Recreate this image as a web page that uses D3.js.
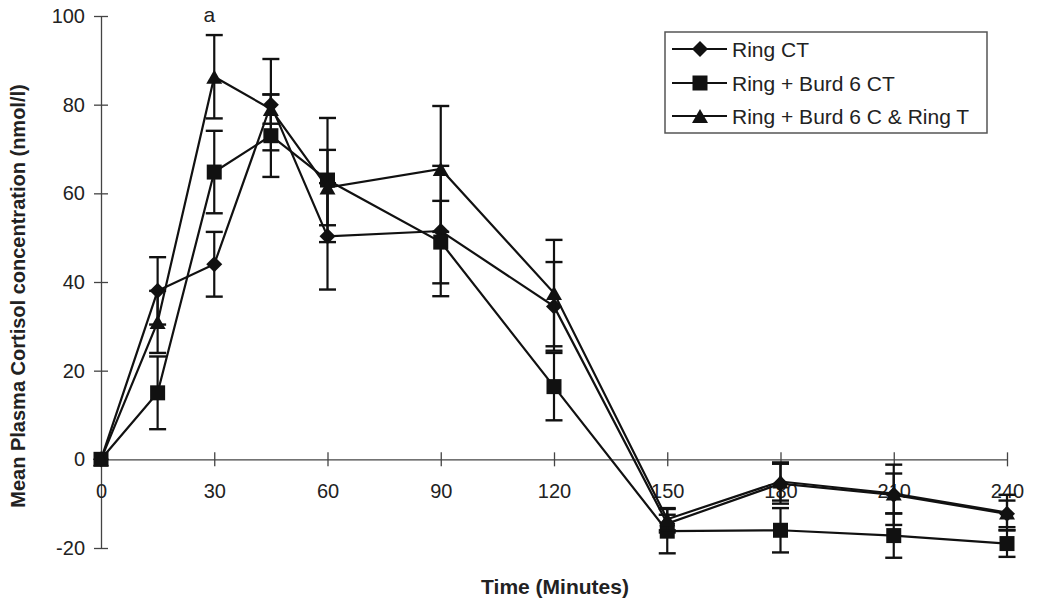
<!DOCTYPE html>
<html>
<head>
<meta charset="utf-8">
<script src="https://cdn.jsdelivr.net/npm/d3@7"></script>
<style>
  html, body { margin: 0; padding: 0; background: #fff; }
  svg { display: block; font-family: "Liberation Sans", Arial, sans-serif; }
</style>
</head>
<body>
<svg id="chart" width="1037" height="601"></svg>
<script>
// ---- data ----
const times = [0, 15, 30, 45, 60, 90, 120, 150, 180, 210, 240];
const seriesNames = ["Ring CT", "Ring + Burd 6 CT", "Ring + Burd 6 C & Ring T"];
const ringCT        = [0, 38, 44, 80, 50.3, 51.5, 34.5, -14.5, -5.5, -8, -12.3];
const ringCTErr     = [0, 7.6, 7.3, 10.3, 12, 14.7, 10, 2, 4.5, 6.8, 3];
const burdCT        = [0, 15, 64.8, 73, 63, 49, 16.4, -16.2, -16, -17.2, -19];
const burdCTErr     = [0, 8.2, 9.3, 9.3, 14, 9.3, 7.6, 5, 5, 5, 3];
const burdCRingT    = [0, 31, 86.3, 79, 61.3, 65.5, 37.5, -13.5, -5, -7.7, -12];
const burdCRingTErr = [0, 7, 9.4, 3.3, 8.5, 14.2, 12, 2.5, 4.3, 4.5, 4];
const xTicks = [0, 30, 60, 90, 120, 150, 180, 210, 240];
const yTicks = [-20, 0, 20, 40, 60, 80, 100];
const markerTypes = ["diamond", "square", "triangle"];

const series = [
  { name: seriesNames[0], values: ringCT, errs: ringCTErr, marker: markerTypes[0] },
  { name: seriesNames[1], values: burdCT, errs: burdCTErr, marker: markerTypes[1] },
  { name: seriesNames[2], values: burdCRingT, errs: burdCRingTErr, marker: markerTypes[2] }
];

// ---- layout ----
const svg = d3.select("#chart");
const x = d3.scaleLinear().domain([0, 240]).range([101, 1007]);
const y = d3.scaleLinear().domain([-20, 100]).range([548, 16]);

const axisColor = "#444";
const fmt = d => String(d); // plain hyphen for negatives

// y axis
const yAxisG = svg.append("g").attr("transform", `translate(${x(0)},0)`);
yAxisG.call(d3.axisLeft(y).tickValues(yTicks).tickSize(0).tickPadding(16).tickFormat(fmt));
yAxisG.select(".domain").attr("stroke", axisColor).attr("stroke-width", 1.3);
yAxisG.selectAll(".tick text").attr("font-size", 20).attr("fill", "#222")
  .attr("font-family", "'Liberation Sans', Arial, sans-serif");
yAxisG.selectAll(".tick").append("line")
  .attr("x1", -7).attr("x2", 7).attr("stroke", axisColor).attr("stroke-width", 1.3);

// x axis at y = 0
const xAxisG = svg.append("g").attr("transform", `translate(0,${y(0)})`);
xAxisG.call(d3.axisBottom(x).tickValues(xTicks).tickSize(0).tickPadding(24).tickFormat(fmt));
xAxisG.select(".domain").attr("stroke", axisColor).attr("stroke-width", 1.3);
xAxisG.selectAll(".tick text").attr("font-size", 20).attr("fill", "#222")
  .attr("font-family", "'Liberation Sans', Arial, sans-serif");
xAxisG.selectAll(".tick").append("line")
  .attr("y1", -7).attr("y2", 7).attr("stroke", axisColor).attr("stroke-width", 1.3);

// axis titles
svg.append("text")
  .attr("transform", `translate(25,${(y(100) + y(-20)) / 2 + 14}) rotate(-90)`)
  .attr("text-anchor", "middle")
  .attr("font-weight", "bold").attr("font-size", 20).attr("fill", "#222")
  .text("Mean Plasma Cortisol concentration (nmol/l)");

svg.append("text")
  .attr("x", 555).attr("y", 594)
  .attr("text-anchor", "middle")
  .attr("font-weight", "bold").attr("font-size", 21).attr("fill", "#222")
  .text("Time (Minutes)");

// annotation "a"
svg.append("text")
  .attr("x", x(30) - 5).attr("y", 22)
  .attr("text-anchor", "middle")
  .attr("font-size", 21).attr("fill", "#222")
  .text("a");

function drawMarker(g, type, cx, cy) {
  if (type === "diamond") {
    const r = 8;
    g.append("path").attr("d", `M${cx},${cy - r}L${cx + r},${cy}L${cx},${cy + r}L${cx - r},${cy}Z`).attr("fill", "#111");
  } else if (type === "square") {
    const h = 7.5;
    g.append("rect").attr("x", cx - h).attr("y", cy - h).attr("width", 2 * h).attr("height", 2 * h).attr("fill", "#111");
  } else {
    const w = 8, hh = 7;
    g.append("path").attr("d", `M${cx},${cy - hh}L${cx + w},${cy + hh}L${cx - w},${cy + hh}Z`).attr("fill", "#111");
  }
}

const line = d3.line().x(d => x(d.t)).y(d => y(d.v));
const plot = svg.append("g");

series.forEach(s => {
  const pts = times.map((t, i) => ({ t, v: s.values[i], e: s.errs[i] }));
  const g = plot.append("g");
  // error bars
  pts.forEach(p => {
    if (p.e <= 0) return;
    const cx = x(p.t), y1 = y(p.v + p.e), y2 = y(p.v - p.e);
    g.append("line").attr("x1", cx).attr("x2", cx).attr("y1", y1).attr("y2", y2)
      .attr("stroke", "#111").attr("stroke-width", 2.2);
    [y1, y2].forEach(yy => g.append("line").attr("x1", cx - 8.5).attr("x2", cx + 8.5)
      .attr("y1", yy).attr("y2", yy).attr("stroke", "#111").attr("stroke-width", 2.4));
  });
  // line
  g.append("path").datum(pts).attr("d", line).attr("fill", "none")
    .attr("stroke", "#111").attr("stroke-width", 2.2);
  // markers
  pts.forEach(p => drawMarker(g, s.marker, x(p.t), y(p.v)));
});

// legend
const legend = svg.append("g");
legend.append("rect").attr("x", 665).attr("y", 32).attr("width", 322).attr("height", 101)
  .attr("fill", "#fff").attr("stroke", "#555").attr("stroke-width", 1.5);
const rowY = [49, 83, 116];
series.forEach((s, i) => {
  const ly = rowY[i];
  legend.append("line").attr("x1", 672).attr("x2", 727).attr("y1", ly).attr("y2", ly)
    .attr("stroke", "#111").attr("stroke-width", 2.2);
  drawMarker(legend, s.marker, 700, ly);
  legend.append("text").attr("x", 732).attr("y", ly + 7.5)
    .attr("font-size", 21).attr("fill", "#222").text(s.name);
});
</script>
</body>
</html>
